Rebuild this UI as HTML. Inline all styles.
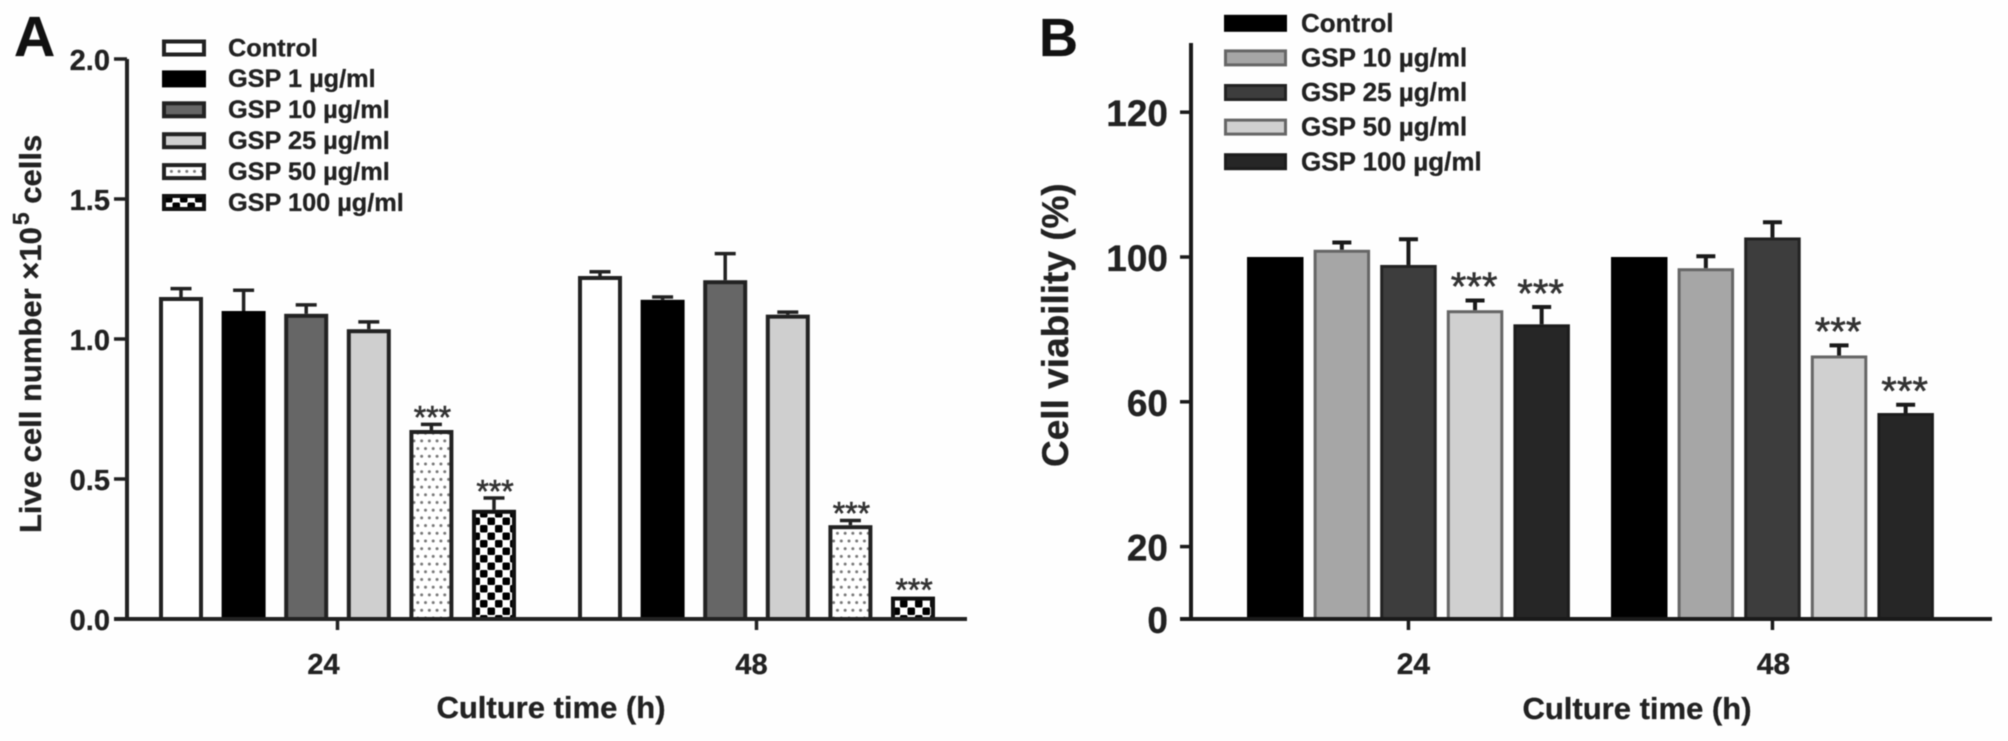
<!DOCTYPE html>
<html lang="en">
<head>
<meta charset="utf-8">
<title>Live cell number and cell viability after GSP treatment</title>
<style>
  html, body { margin: 0; padding: 0; background: #fefefe; }
  #figure { display: block; width: 2008px; height: 741px; filter: blur(0.55px); }
  text { font-family: "Liberation Sans", sans-serif; font-weight: bold; fill: #222; stroke: #222; stroke-width: 0.3px; }
  .stars { font-weight: normal; fill: #333; stroke: #333; stroke-width: 0.6px; }
</style>
</head>
<body>
<svg id="figure" xmlns="http://www.w3.org/2000/svg" width="2008" height="741" viewBox="0 0 2008 741">
  <defs>
    <pattern id="dots" patternUnits="userSpaceOnUse" width="7.7" height="15.4">
      <rect width="7.7" height="15.4" fill="#fff"/>
      <circle cx="2" cy="2" r="1.5" fill="#777"/>
      <circle cx="5.85" cy="9.7" r="1.5" fill="#777"/>
    </pattern>
    <pattern id="checks" patternUnits="userSpaceOnUse" width="15" height="15">
      <rect width="15" height="15" fill="#fff"/>
      <rect x="0" y="0" width="7.5" height="7.5" rx="1.5" fill="#000"/>
      <rect x="7.5" y="7.5" width="7.5" height="7.5" rx="1.5" fill="#000"/>
    </pattern>
  </defs>
  <rect width="2008" height="741" fill="#fefefe"/>

  <text x="14" y="56" font-size="57" style="fill:#111">A</text>
  <text x="1039" y="56" font-size="54" style="fill:#111">B</text>

  <text transform="translate(41,533) rotate(-90)" font-size="31">Live cell number ×10<tspan font-size="23" dy="-12" dx="2">5</tspan><tspan dy="12"> cells</tspan></text>
  <text x="551" y="718" font-size="31" text-anchor="middle">Culture time (h)</text>

  <text transform="translate(1068,467) rotate(-90)" font-size="37">Cell viability (%)</text>
  <text x="1637" y="719" font-size="31" text-anchor="middle">Culture time (h)</text>

  <g id="panel-a"></g>
  <g id="panel-b"></g>
</svg>

<script>
// ---- Shared categories ----
const categories = ['24', '48'];

// ---- Panel A data ----
const seriesNamesA = ['Control', 'GSP 1 µg/ml', 'GSP 10 µg/ml', 'GSP 25 µg/ml', 'GSP 50 µg/ml', 'GSP 100 µg/ml'];
const valuesA24 = [1.15, 1.1, 1.09, 1.035, 0.675, 0.39];
const valuesA48 = [1.225, 1.14, 1.21, 1.087, 0.335, 0.08];
const errorsA24 = [0.03, 0.074, 0.032, 0.026, 0.02, 0.042];
const errorsA48 = [0.015, 0.01, 0.095, 0.009, 0.017, 0];
const sigA24 = ['', '', '', '', '***', '***'];
const sigA48 = ['', '', '', '', '***', '***'];
const tickValuesA = [0, 0.5, 1, 1.5, 2];
const tickLabelsA = ['0.0', '0.5', '1.0', '1.5', '2.0'];

// ---- Panel B data ----
const seriesNamesB = ['Control', 'GSP 10 µg/ml', 'GSP 25 µg/ml', 'GSP 50 µg/ml', 'GSP 100 µg/ml'];
const valuesB24 = [100, 102, 97.8, 85.3, 81.4];
const valuesB48 = [100, 96.9, 105.4, 72.8, 56.9];
const errorsB24 = [0, 2, 7.1, 2.7, 4.8];
const errorsB48 = [0, 3.3, 4.2, 2.8, 2.3];
const sigB24 = ['', '', '', '***', '***'];
const sigB48 = ['', '', '', '***', '***'];
// The printed top label of the source figure sits where 140 would fall on the linear scale.
const tickValuesB = [0, 20, 60, 100, 140];
const tickLabelsB = ['0', '20', '60', '100', '120'];

// ---- Drawing ----
const SVG_NS = 'http://www.w3.org/2000/svg';

function make(tag, parent, attrs) {
  const node = document.createElementNS(SVG_NS, tag);
  for (const key in attrs) node.setAttribute(key, attrs[key]);
  parent.appendChild(node);
  return node;
}

function drawPanel(cfg) {
  const root = document.getElementById(cfg.rootId);
  const y = v => cfg.y0 - v * cfg.pxPerUnit;
  const x = (g, s) => cfg.x0 + g * cfg.groupStep + s * cfg.barStep;

  // value axis
  const yAxis = make('line', root, {x1: cfg.axisX, x2: cfg.axisX, y1: cfg.axisTop, y2: cfg.y0 + 2, stroke: cfg.axisColor, 'stroke-width': 4});
  
  

  cfg.tickValues.forEach((v, i) => {
    const tick = make('line', root, {x1: cfg.axisX - cfg.tickLen, x2: cfg.axisX, y1: y(v), y2: y(v), stroke: cfg.axisColor, 'stroke-width': 3.5});
    
    
    const label = make('text', root, {x: cfg.tickLabelX, y: y(v) + cfg.tickLabelDy, 'text-anchor': 'end', 'font-size': cfg.tickFont});
    
    
    label.textContent = cfg.tickLabels[i];
  });

  // bars and error bars
  categories.forEach((cat, g) => {
    const values = cfg.values[g];
    values.forEach((v, s) => {
      const left = x(g, s);
      const mid = left + cfg.barWidth / 2;
      const err = cfg.errors[g][s];
      const style = cfg.styles[s];
      if (err > 0) {
        const stem = make('line', root, {x1: mid, x2: mid, y1: y(v), y2: y(v + err), stroke: cfg.axisColor, 'stroke-width': cfg.errWidth});
        
        
        const cap = make('line', root, {x1: mid - cfg.capHalf, x2: mid + cfg.capHalf, y1: y(v + err), y2: y(v + err), stroke: cfg.axisColor, 'stroke-width': cfg.errWidth});
        
        
      }
      const half = cfg.barStroke / 2;
      const bar = make('rect', root, {
        x: left + half, y: y(v) + half,
        width: cfg.barWidth - cfg.barStroke,
        height: Math.max(0, cfg.y0 - y(v) - half),
        fill: style.fill, stroke: style.stroke, 'stroke-width': cfg.barStroke
      });
      
      
      const sig = cfg.sig[g][s];
      if (sig) {
        const stars = make('text', root, {
          x: mid + cfg.starDx, y: y(v + err) - cfg.starGap + cfg.starFont * 0.57,
          'text-anchor': 'middle', 'font-size': cfg.starFont, class: 'stars'
        });
        
        
        stars.textContent = sig;
      }
    });
  });

  // category axis
  const xAxis = make('line', root, {x1: cfg.axisX - cfg.tickLen, x2: cfg.axisEnd, y1: cfg.y0, y2: cfg.y0, stroke: cfg.axisColor, 'stroke-width': 4});
  
  

  categories.forEach((cat, g) => {
    const n = cfg.seriesNames.length;
    const center = x(g, 0) + ((n - 1) * cfg.barStep + cfg.barWidth) / 2;
    const tick = make('line', root, {x1: center, x2: center, y1: cfg.y0, y2: cfg.y0 + 11, stroke: cfg.axisColor, 'stroke-width': 3.5});
    
    
    const label = make('text', root, {x: center + cfg.catDx[g], y: cfg.catBaseline, 'text-anchor': 'middle', 'font-size': cfg.catFont});
    
    
    label.textContent = cat + '';
  });

  // legend
  cfg.seriesNames.forEach((name, s) => {
    const style = cfg.styles[s];
    const cy = cfg.legendTop + s * cfg.legendStep;
    const half = cfg.barStroke / 2;
    const swatch = make('rect', root, {
      x: cfg.legendX + half, y: cy - cfg.swatchH / 2 + half,
      width: cfg.swatchW - cfg.barStroke, height: cfg.swatchH - cfg.barStroke,
      fill: style.fill, stroke: style.stroke, 'stroke-width': cfg.barStroke
    });
    
    
    const label = make('text', root, {x: cfg.legendTextX, y: cy + cfg.legendFont * 0.33, 'font-size': cfg.legendFont});
    
    
    label.textContent = name;
  });
}

drawPanel({
  rootId: 'panel-a',
  seriesNames: seriesNamesA,
  values: [valuesA24, valuesA48],
  errors: [errorsA24, errorsA48],
  sig: [sigA24, sigA48],
  tickValues: tickValuesA,
  tickLabels: tickLabelsA,
  styles: [
    {fill: '#ffffff', stroke: '#222'},
    {fill: '#000000', stroke: '#000'},
    {fill: '#666666', stroke: '#222'},
    {fill: '#cfcfcf', stroke: '#222'},
    {fill: 'url(#dots)', stroke: '#222'},
    {fill: 'url(#checks)', stroke: '#111'}
  ],
  y0: 619, pxPerUnit: 280, axisX: 127, axisTop: 59, axisEnd: 967, axisColor: '#222',
  tickLen: 13, tickLabelX: 110, tickLabelDy: 11, tickFont: 29,
  x0: 159, groupStep: 419, barStep: 62.6, barWidth: 44, barStroke: 4,
  errWidth: 3.5, capHalf: 10.5, starDx: 1, starGap: 14, starFont: 32,
  catDx: [-14, -5], catBaseline: 674, catFont: 29,
  legendX: 162, legendTextX: 228, legendTop: 48, legendStep: 30.9, swatchW: 44, swatchH: 17, legendFont: 25.3
});

drawPanel({
  rootId: 'panel-b',
  seriesNames: seriesNamesB,
  values: [valuesB24, valuesB48],
  errors: [errorsB24, errorsB48],
  sig: [sigB24, sigB48],
  tickValues: tickValuesB,
  tickLabels: tickLabelsB,
  styles: [
    {fill: '#000000', stroke: '#000'},
    {fill: '#a6a6a6', stroke: '#666'},
    {fill: '#3d3d3d', stroke: '#222'},
    {fill: '#d0d0d0', stroke: '#666'},
    {fill: '#262626', stroke: '#1c1c1c'}
  ],
  y0: 619, pxPerUnit: 3.62, axisX: 1191, axisTop: 43, axisEnd: 1992, axisColor: '#1a1a1a',
  tickLen: 11, tickLabelX: 1168, tickLabelDy: 14, tickFont: 37,
  x0: 1247, groupStep: 364, barStep: 66.6, barWidth: 56.5, barStroke: 3,
  errWidth: 4, capHalf: 9.5, starDx: -1, starGap: 23, starFont: 40,
  catDx: [5, 1], catBaseline: 674, catFont: 30,
  legendX: 1224, legendTextX: 1301, legendTop: 23.3, legendStep: 34.6, swatchW: 63, swatchH: 17, legendFont: 26
});
</script>
</body>
</html>
